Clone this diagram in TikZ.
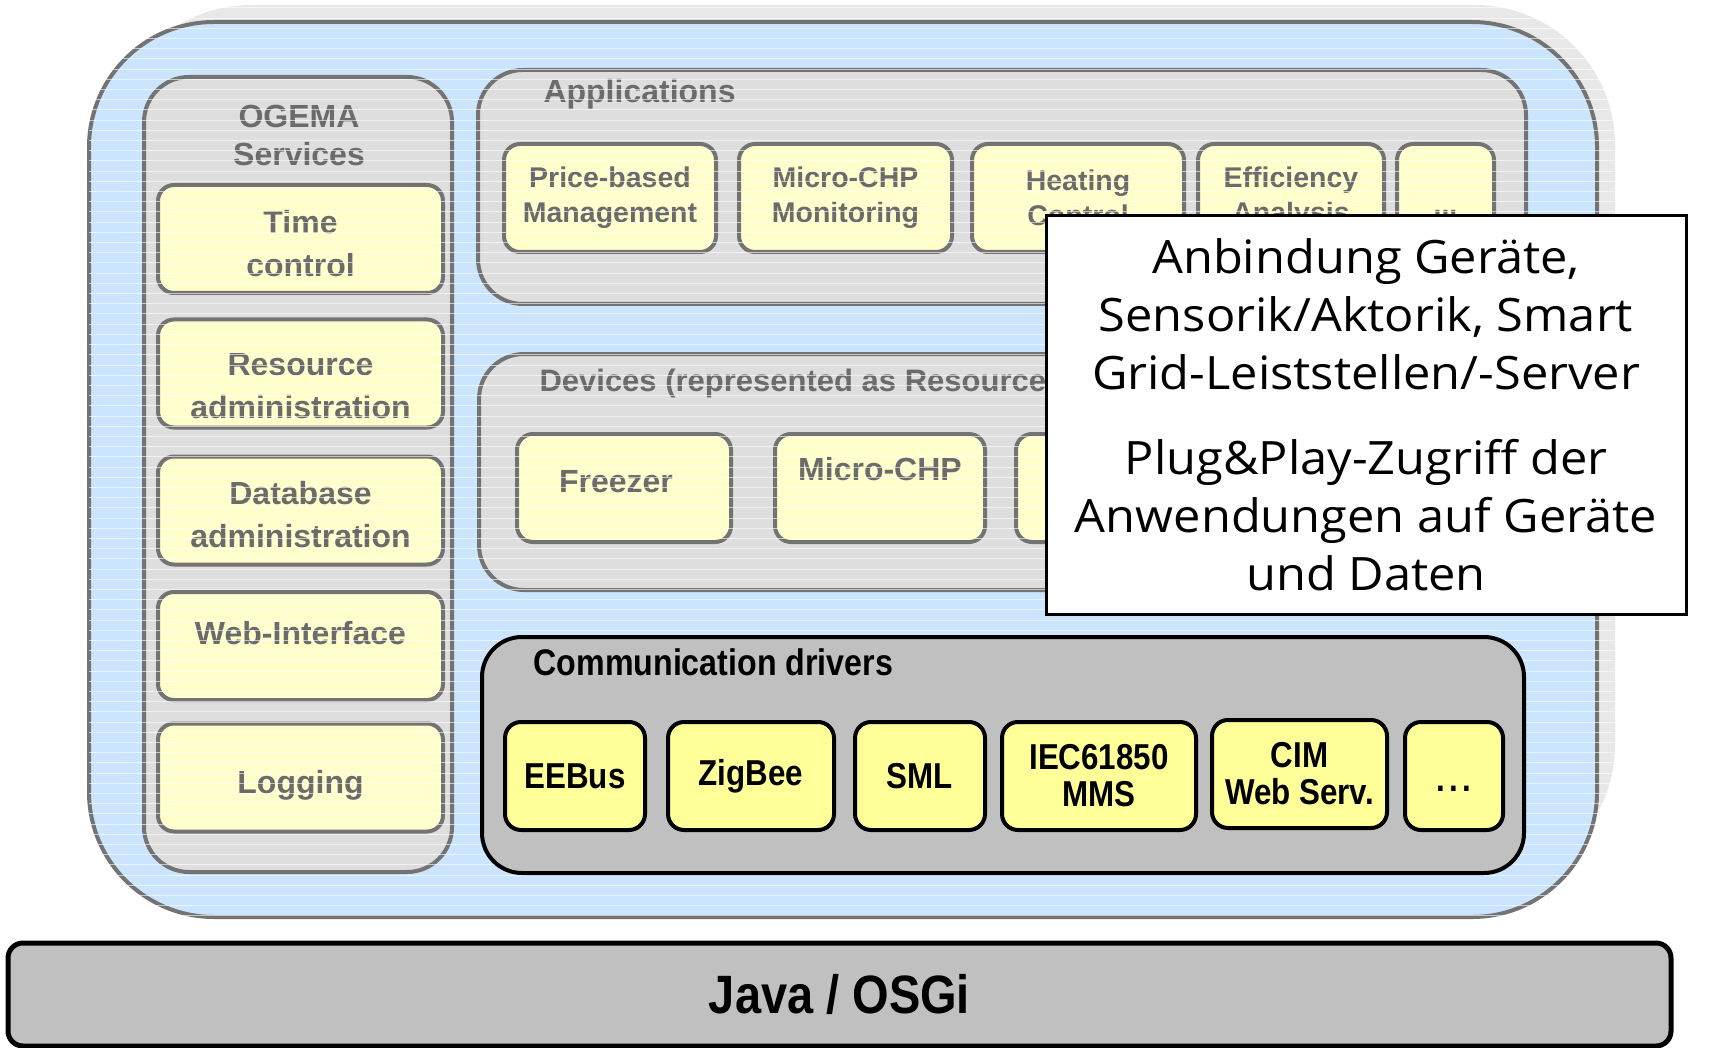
\documentclass[tikz,border=0pt]{standalone}
\usepackage{fontspec}
\setmainfont{Liberation Sans}
\newfontfamily\narrowfont{Liberation Sans}[FakeStretch=0.87]
\newfontfamily\notefont{Open Sans}[FakeStretch=1.06]
\definecolor{platformblue}{HTML}{CCE5FF}
\definecolor{shadowgray}{HTML}{E8E8E8}
\definecolor{layergray}{HTML}{DEDEDE}
\definecolor{paleyellow}{HTML}{FFFFCC}
\definecolor{fadeline}{HTML}{737373}
\definecolor{fadetext}{HTML}{6B6B6B}
\definecolor{drivergray}{HTML}{C0C0C0}
\definecolor{driveryellow}{HTML}{FFFF99}

\begin{document}
\begin{tikzpicture}[x=1pt,y=-1pt]
	\tikzstyle{layer}=[draw=fadeline,line width=4pt,fill=layergray,rounded corners=45pt,inner sep=0pt]
	\tikzstyle{service}=[draw=fadeline,line width=4pt,fill=paleyellow,rounded corners=16pt,align=center,text=fadetext,font=\bfseries\fontsize{32}{43}\selectfont,minimum width=285pt,minimum height=108pt]
	\tikzstyle{app}=[service,font=\bfseries\fontsize{28.5}{35}\selectfont]
	\tikzstyle{heading}=[text=fadetext,font=\bfseries\fontsize{32}{38}\selectfont,align=center]
	\tikzstyle{driver}=[draw=black,line width=4pt,fill=driveryellow,rounded corners=16pt,align=center,font=\narrowfont\bfseries\fontsize{36}{37}\selectfont,minimum height=108pt]
	\tikzstyle{stripe}=[white,line width=1pt,opacity=0.6]

	\useasboundingbox (0,0) rectangle (1736,1048);

	\node[fill=shadowgray,rounded corners=140pt,minimum width=1504pt,minimum height=880pt] (shadow) at (863,445) {};
	\node[draw=fadeline,line width=4pt,fill=platformblue,rounded corners=125pt,minimum width=1508pt,minimum height=895pt] (platform) at (843,469.5) {};

	\node[layer,minimum width=308pt,minimum height=795pt] (services) at (298,474.5) {};
	\node[heading] (servicestitle) at (299,135) {OGEMA\\Services};
	\node[service] (time) at (300.5,239) {\rule{0pt}{32pt}Time\\control};
	\node[service] (resource) at (300.5,373.5) {\rule{0pt}{47pt}Resource\\administration};
	\node[service] (database) at (300.5,510.5) {\rule{0pt}{32pt}Database\\administration};
	\node[service,text depth=27pt] (web) at (300.5,646) {Web-Interface};
	\node[service,text height=39pt] (logging) at (300.5,777.5) {Logging};

	\node[layer,minimum width=1048pt,minimum height=234pt] (applications) at (1002,187) {};
	\node[heading,anchor=west] (appstitle) at (540,94) {Applications};
	\node[app,minimum width=212pt] (price) at (610,198) {Price-based\\Management};
	\node[app,minimum width=213pt] (chpapp) at (845.5,198) {Micro-CHP\\Monitoring};
	\node[app,minimum width=212pt] (heating) at (1078,198) {Heating\\Control};
	\node[app,minimum width=186pt] (efficiency) at (1291,198) {Efficiency\\Analysis};
	\node[app,minimum width=97pt,text height=34pt] (moreapps) at (1445.5,198) {...};

	\node[layer,minimum width=1047pt,minimum height=236pt] (devices) at (1002.5,472) {};
	\node[heading,anchor=west,font=\bfseries\fontsize{31}{36}\selectfont] (devicestitle) at (536,383) {Devices (represented as Resources)};
	\node[service,minimum width=214pt,text depth=14pt] (freezer) at (624,488) {Freezer\hspace{16pt}};
	\node[service,minimum width=210pt,text depth=38pt] (chpdevice) at (880,488) {Micro-CHP};
	\node[service,minimum width=212pt] (thirddevice) at (1122,488) {};

	\foreach \y in {8,18.2,...,916}
		\draw[stripe] (89,\y) -- (1615,\y);

	\node[draw=black,line width=4pt,fill=drivergray,rounded corners=40pt,minimum width=1042pt,minimum height=236pt] (drivers) at (1003,755) {};
	\node[anchor=west,font=\narrowfont\bfseries\fontsize{37}{40}\selectfont] (driverstitle) at (530,662) {Communication drivers};
	\node[driver,minimum width=140pt] (eebus) at (575,776) {EEBus};
	\node[driver,minimum width=166pt] (zigbee) at (751,776) {ZigBee};
	\node[driver,minimum width=130pt] (sml) at (920,776) {SML};
	\node[driver,minimum width=194pt] (iec) at (1099,776) {IEC61850\\MMS};
	\node[driver,minimum width=175pt] (cim) at (1299.5,774) {CIM\\Web Serv.};
	\node[driver,minimum width=98pt,text height=30pt] (moredrivers) at (1454,776) {.\kern4pt.\kern4pt.};

	\node[draw=black,line width=5pt,fill=drivergray,rounded corners=15pt,minimum width=1663pt,minimum height=103pt,font=\narrowfont\bfseries\fontsize{54}{60}\selectfont] (java) at (839.5,994.5) {Java / OSGi};

	\node[draw=black,line width=3pt,fill=white,minimum width=640pt,minimum height=398pt,align=center,font=\notefont\fontsize{46}{58}\selectfont] (note) at (1366,415) {Anbindung Geräte,\\Sensorik/Aktorik, Smart\\Grid-Leiststellen/-Server\\[27pt]Plug\&Play-Zugriff der\\Anwendungen auf Geräte\\und Daten};
\end{tikzpicture}
\end{document}
